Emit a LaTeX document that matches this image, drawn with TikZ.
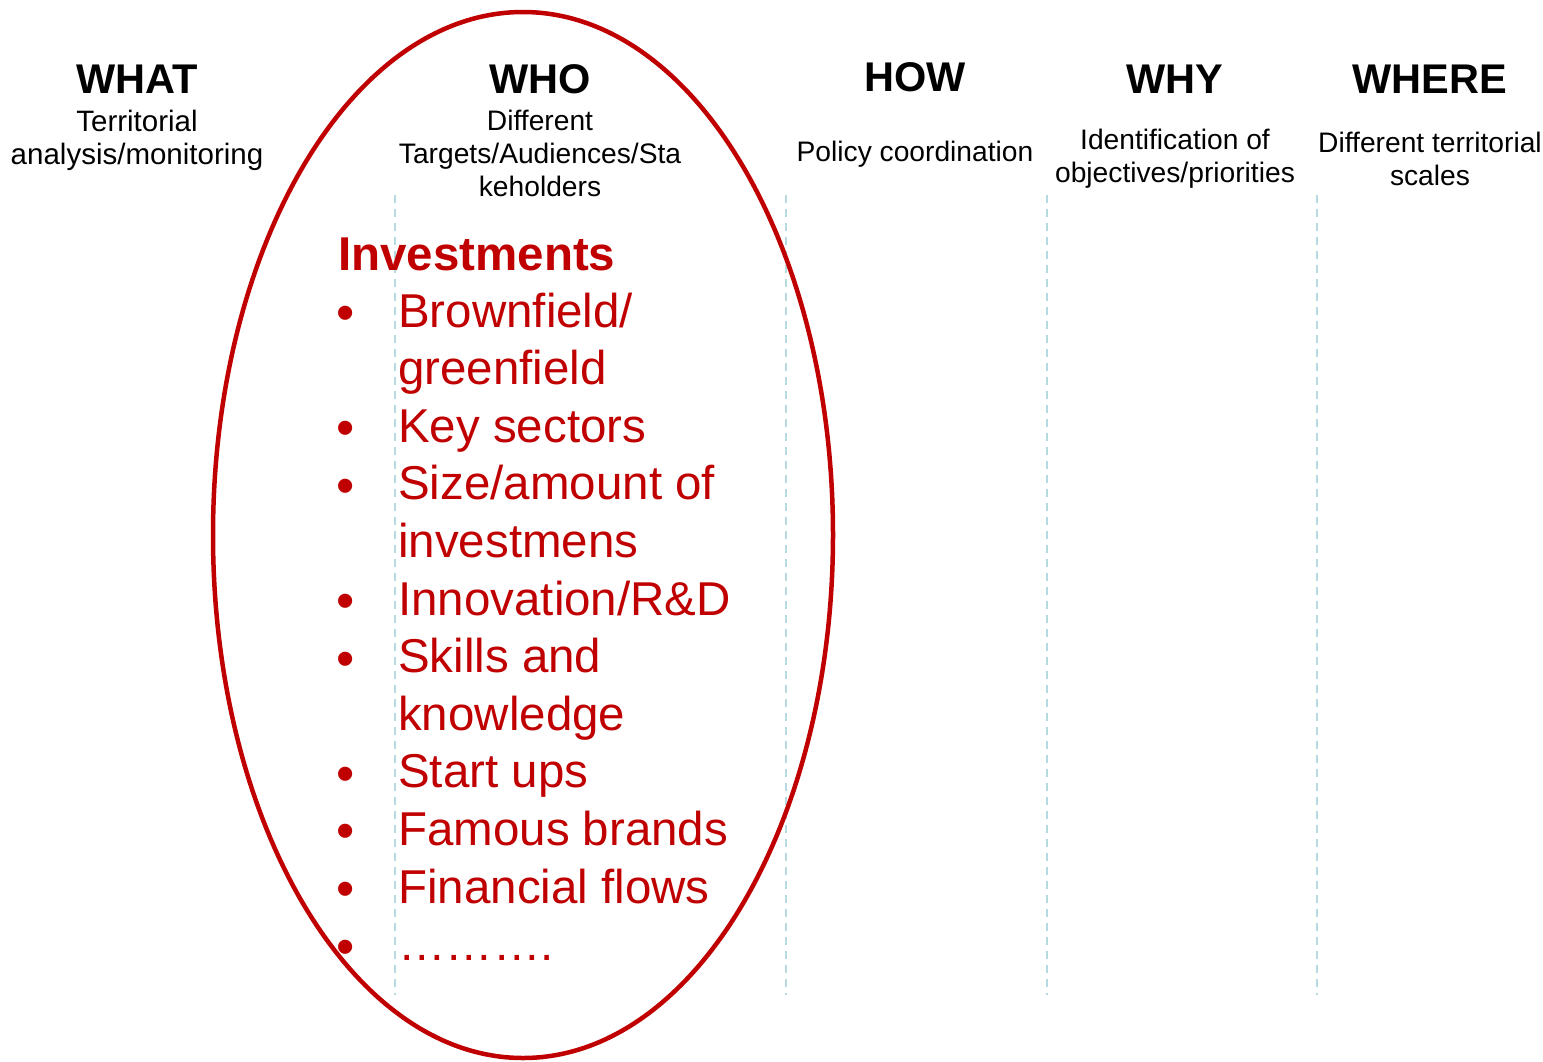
\documentclass[tikz,border=0pt]{standalone}
\usepackage{fontspec}
\setmainfont{Liberation Sans}
\definecolor{accent}{RGB}{192,0,0}
\definecolor{sepline}{RGB}{183,218,224}
\begin{document}
\begin{tikzpicture}[x=1pt,y=-1pt,
  head/.style={font=\fontsize{41.5}{48}\selectfont\bfseries, anchor=base, inner sep=0},
  sub/.style={font=\fontsize{28.2}{33}\selectfont, align=center, anchor=base, inner sep=0},
  itemtext/.style={font=\fontsize{47.5}{56}\selectfont, text=accent, anchor=base west, inner sep=0},
  bulletmark/.style={font=\fontsize{52}{56}\selectfont, text=accent, anchor=base, inner sep=0},
  sepline/.style={draw=sepline, line width=2.5pt, dash pattern=on 8pt off 6pt},
  focus/.style={draw=accent, line width=4.5pt}
]
\useasboundingbox (0,0) rectangle (1543,1061);

% column separators
\foreach \x/\n in {395/a, 786/b, 1047/c, 1317/d} {
  \coordinate (top\n) at (\x,195);
  \coordinate (bot\n) at (\x,995);
  \draw[sepline] (top\n) -- (bot\n);
}

% column headings
\node[head] (what)  at (137,93) {WHAT};
\node[head] (who)   at (540,93) {WHO};
\node[head] (how)   at (915,91) {HOW};
\node[head] (why)   at (1175,93) {WHY};
\node[head] (where) at (1430,93) {WHERE};

% sub-headings (base anchor sits on the last line)
\node[sub, font=\fontsize{29.5}{33}\selectfont] (whatsub) at (137,164) {Territorial\\analysis/monitoring};
\node[sub] (whosub)   at (540,196) {Different\\Targets/Audiences/Sta\\keholders};
\node[sub] (howsub)   at (915,161) {Policy coordination};
\node[sub] (whysub)   at (1175,182) {Identification of\\objectives/priorities};
\node[sub] (wheresub) at (1430,185) {Different territorial\\scales};

% investment list
\node[itemtext, font=\fontsize{47.5}{56}\selectfont\bfseries] (inv) at (338,270) {Investments};
\foreach \t/\b [count=\i from 0] in {
  {Brownfield/}/1, {greenfield}/0, {Key sectors}/1, {Size/amount of}/1,
  {investmens}/0, {Innovation/R\&D}/1, {Skills and}/1, {knowledge}/0,
  {Start ups}/1, {Famous brands}/1, {Financial flows}/1, {……….}/1} {
  \pgfmathsetmacro{\yy}{327+57.6*\i}
  \node[itemtext] (item\i) at (398,\yy) {\t};
  \ifnum\b=1\relax
    \node[bulletmark] (dot\i) at (345.5,\yy+3.5) {•};
  \fi
}

% highlight around the WHO column
\draw[focus] (523,535) ellipse [x radius=310, y radius=523];
\end{tikzpicture}
\end{document}
